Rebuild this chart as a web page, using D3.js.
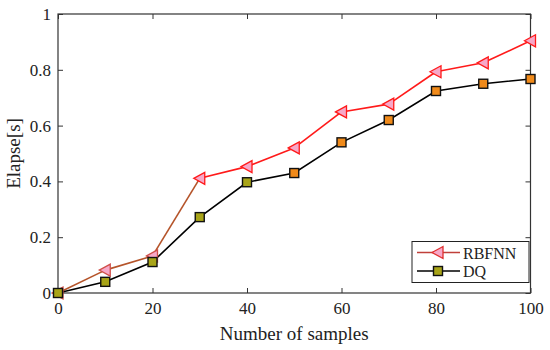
<!DOCTYPE html>
<html>
<head>
<meta charset="utf-8">
<script src="https://cdn.jsdelivr.net/npm/d3@7"></script>
<style>
body { margin: 0; background: #fff; }
text { font-family: "Liberation Serif", "Times New Roman", serif; fill: #222; }
</style>
</head>
<body>
<script>
// samples and timings
const samples = [0, 10, 20, 30, 40, 50, 60, 70, 80, 90, 100];
const rbfnn = [0, 0.082, 0.133, 0.411, 0.453, 0.52, 0.649, 0.677, 0.793, 0.825, 0.904];
const dq = [0, 0.04, 0.111, 0.272, 0.397, 0.43, 0.54, 0.62, 0.724, 0.75, 0.767];
const xTicks = [0, 20, 40, 60, 80, 100];
const yTicks = [0, 0.2, 0.4, 0.6, 0.8, 1];

const W = 550, H = 350;
const pLeft = 58, pRight = 530.5, pTop = 14, pBottom = 293;

const svg = d3.select("body").append("svg")
    .attr("width", W)
    .attr("height", H);

let x = d3.scaleLinear().domain([0, 100]).range([pLeft, pRight]);
let y = d3.scaleLinear().domain([0, 1]).range([pBottom, pTop]);

// frame
svg.append("rect")
    .attr("x", pLeft).attr("y", pTop)
    .attr("width", pRight - pLeft).attr("height", pBottom - pTop)
    .attr("fill", "none")
    .attr("stroke", "#333")
    .attr("stroke-width", 1.2);

// axes, ticks pointing inside
svg.append("g")
    .attr("transform", "translate(0," + pBottom + ")")
    .call(d3.axisBottom(x).tickValues(xTicks).tickFormat(d3.format("d")).tickSizeInner(-5).tickSizeOuter(0).tickPadding(9))
    .call(g => g.select(".domain").remove())
    .call(g => g.selectAll("text").attr("font-size", 17).attr("fill", "#222"))
    .call(g => g.selectAll("line").attr("stroke", "#333"));

svg.append("g")
    .attr("transform", "translate(" + pLeft + ",0)")
    .call(d3.axisLeft(y).tickValues(yTicks).tickFormat(d => d === 0 || d === 1 ? d : d.toFixed(1)).tickSizeInner(-5).tickSizeOuter(0).tickPadding(7))
    .call(g => g.select(".domain").remove())
    .call(g => g.selectAll("text").attr("font-size", 17).attr("fill", "#222"))
    .call(g => g.selectAll("line").attr("stroke", "#333"));

// mirrored ticks on top and right
svg.append("g")
    .attr("transform", "translate(0," + pTop + ")")
    .call(d3.axisTop(x).tickValues(xTicks).tickFormat("").tickSizeInner(-5).tickSizeOuter(0))
    .call(g => g.select(".domain").remove())
    .call(g => g.selectAll("line").attr("stroke", "#333"));

svg.append("g")
    .attr("transform", "translate(" + pRight + ",0)")
    .call(d3.axisRight(y).tickValues(yTicks).tickFormat("").tickSizeInner(-5).tickSizeOuter(0))
    .call(g => g.select(".domain").remove())
    .call(g => g.selectAll("line").attr("stroke", "#333"));

// axis titles
svg.append("text")
    .attr("x", (pLeft + pRight) / 2)
    .attr("y", 340)
    .attr("text-anchor", "middle")
    .attr("font-size", 19)
    .text("Number of samples");

svg.append("text")
    .attr("transform", "translate(20," + (pTop + pBottom) / 2 + ") rotate(-90)")
    .attr("text-anchor", "middle")
    .attr("font-size", 19)
    .text("Elapse[s]");

const rb = samples.map((s, i) => ({ x: s, y: rbfnn[i] }));
const dd = samples.map((s, i) => ({ x: s, y: dq[i] }));

// RBFNN line - first segments look brownish in the picture
const segColor = i => i < 3 ? "#b5542a" : "#ff1a1a";
svg.append("g").selectAll("line")
    .data(rb.slice(1))
    .enter()
    .append("line")
    .attr("x1", (d, i) => x(rb[i].x))
    .attr("y1", (d, i) => y(rb[i].y))
    .attr("x2", d => x(d.x))
    .attr("y2", d => y(d.y))
    .attr("stroke", (d, i) => segColor(i))
    .attr("stroke-width", 1.6);

// DQ line
svg.append("path")
    .datum(dd)
    .attr("d", d3.line().x(d => x(d.x)).y(d => y(d.y)))
    .attr("fill", "none")
    .attr("stroke", "#000")
    .attr("stroke-width", 1.6);

const tri = "M-6,0 L5,-6 L5,6 Z";

svg.append("g").selectAll("path")
    .data(rb)
    .enter()
    .append("path")
    .attr("d", tri)
    .attr("transform", d => "translate(" + x(d.x) + "," + y(d.y) + ")")
    .attr("fill", "#f7a8c8")
    .attr("stroke", (d, i) => i <= 2 ? "#d0504a" : "#ff1a1a")
    .attr("stroke-width", 1.3);

svg.append("g").selectAll("rect")
    .data(dd)
    .enter()
    .append("rect")
    .attr("x", d => x(d.x) - 4.5)
    .attr("y", d => y(d.y) - 4.5)
    .attr("width", 9)
    .attr("height", 9)
    .attr("fill", d => d.x <= 40 ? "#a8a418" : "#f08a1a")
    .attr("stroke", "#111")
    .attr("stroke-width", 1.4);

// legend
const lg = svg.append("g");
lg.append("rect")
    .attr("x", 412).attr("y", 241.5)
    .attr("width", 117).attr("height", 41)
    .attr("fill", "#fff")
    .attr("stroke", "#222")
    .attr("stroke-width", 1);

lg.append("line").attr("x1", 417).attr("x2", 460).attr("y1", 252.5).attr("y2", 252.5)
    .attr("stroke", "#c0403a").attr("stroke-width", 1.6);
lg.append("path").attr("d", tri).attr("transform", "translate(438,252.5)")
    .attr("fill", "#f7a8c8").attr("stroke", "#e03030").attr("stroke-width", 1.3);
lg.append("text").attr("x", 463).attr("y", 258.5).attr("font-size", 16).text("RBFNN");

lg.append("line").attr("x1", 417).attr("x2", 460).attr("y1", 271).attr("y2", 271)
    .attr("stroke", "#000").attr("stroke-width", 1.6);
lg.append("rect").attr("x", 433.5).attr("y", 266.5).attr("width", 9).attr("height", 9)
    .attr("fill", "#a8a418").attr("stroke", "#111").attr("stroke-width", 1.4);
lg.append("text").attr("x", 463).attr("y", 277).attr("font-size", 16).text("DQ");
</script>
</body>
</html>
